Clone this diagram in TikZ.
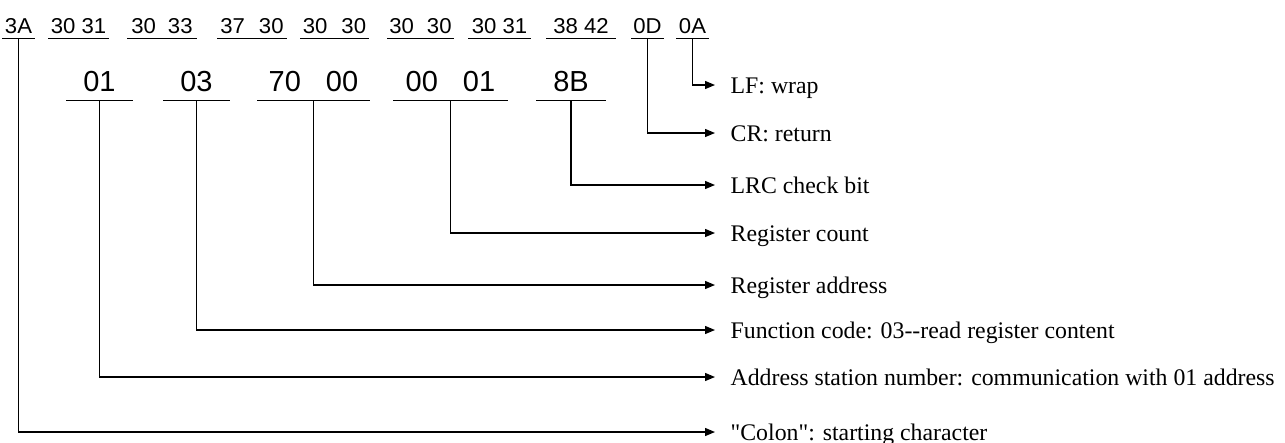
\documentclass[tikz,border=0pt]{standalone}
\usepackage{fontspec}
\setmainfont{Liberation Serif}
\newfontfamily\labfont{Liberation Serif}
\newfontfamily\hexfont[FakeStretch=1.03]{Liberation Sans}
\newfontfamily\hexbigfont{Liberation Sans}
\usetikzlibrary{arrows.meta}
\begin{document}
\begin{tikzpicture}[x=1pt,y=-1pt,line width=1.3pt,
  hexa/.style={font=\hexfont\fontsize{21.5}{21.5}\selectfont, anchor=base,
    inner xsep=0pt, inner ysep=5pt, text depth=0pt, minimum width=#1},
  hexb/.style={font=\hexbigfont\fontsize{29}{29}\selectfont, anchor=base,
    inner xsep=0pt, inner ysep=9pt, text depth=0pt, minimum width=#1},
  labnode/.style={font=\labfont\fontsize{23.8}{26}\selectfont, anchor=west,
    inner xsep=0pt, inner ysep=0pt, text height=16pt, text depth=0pt},
  arr/.style={-{Triangle[length=10pt,width=8pt]}, shorten >=15pt},
  uline/.style={line width=1.3pt}]
\useasboundingbox (0,0) rectangle (1285,442);
% top row
\node[hexa=31pt] (t1) at (18.5,33) {3A};
\node[hexa=59pt] (t2) at (78.5,33) {30 31};
\node[hexa=68pt] (t3) at (162,33) {30\hspace{12pt}33};
\node[hexa=68pt] (t4) at (252,33) {37\hspace{14pt}30};
\node[hexa=67pt] (t5) at (334.5,33) {30\hspace{14pt}30};
\node[hexa=65pt] (t6) at (420.5,33) {30\hspace{13pt}30};
\node[hexa=61pt] (t7) at (499.5,33) {30 31};
\node[hexa=68pt] (t8) at (581,33) {38 42};
\node[hexa=31pt] (t9) at (647.5,33) {0D};
\node[hexa=31pt] (t10) at (692.5,33) {0A};
% second row
\node[hexb=65pt] (s1) at (99.5,91) {01};
\node[hexb=65pt] (s2) at (196.5,91) {03};
\node[hexb=111pt] (s3) at (313.5,91) {70\hspace{25pt}00};
\node[hexb=113pt] (s4) at (450.5,91) {00\hspace{25pt}01};
\node[hexb=68pt] (s5) at (571,91) {8B};
\foreach \n in {t1,t2,t3,t4,t5,t6,t7,t8,t9,t10,s1,s2,s3,s4,s5}
  \draw[uline] (\n.south west) -- (\n.south east);
% labels
\node[labnode] (lLF) at (730,85) {LF: wrap};
\node[labnode] (lCR) at (730,133) {CR: return};
\node[labnode] (lLRC) at (730,185) {LRC check bit};
\node[labnode] (lRC) at (730,233) {Register count};
\node[labnode] (lRA) at (730,285) {Register address};
\node[labnode] (lFC) at (730,330) {Function code: 03-\kern0pt-read register content};
\node[labnode] (lAS) at (730,377) {Address station number: communication with 01 address};
\node[labnode] (lCo) at (730,432) {"Colon": starting character};
% connectors
\draw[arr] (t10.south) |- (lLF.west);
\draw[arr] (t9.south) |- (lCR.west);
\draw[arr] (s5.south) |- (lLRC.west);
\draw[arr] (s4.south) |- (lRC.west);
\draw[arr] (s3.south) |- (lRA.west);
\draw[arr] (s2.south) |- (lFC.west);
\draw[arr] (s1.south) |- (lAS.west);
\draw[arr] (t1.south) |- (lCo.west);
\end{tikzpicture}
\end{document}
